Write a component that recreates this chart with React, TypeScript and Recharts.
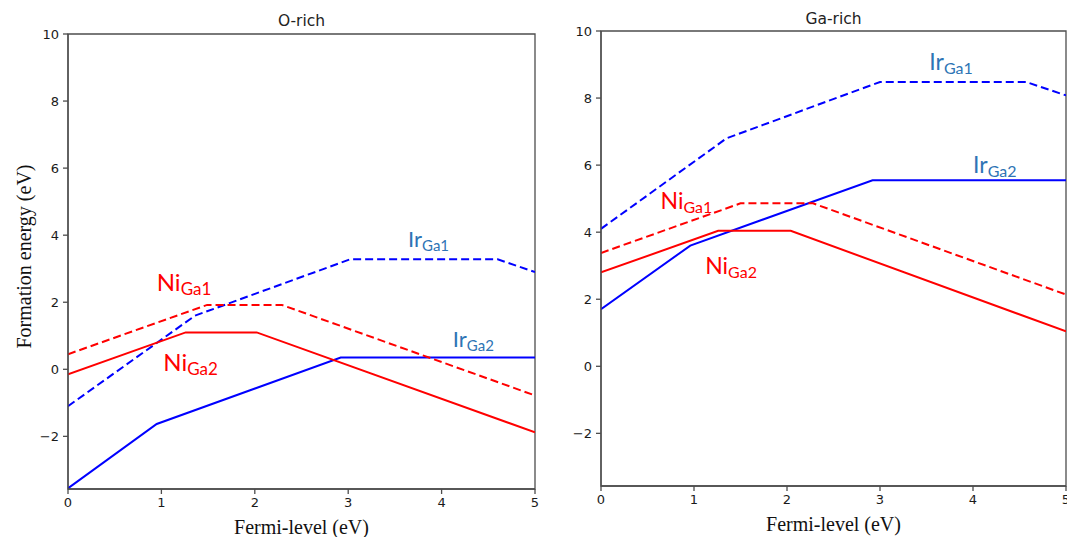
import React from 'react';
import { LineChart, Line, XAxis, YAxis, ReferenceArea, ReferenceDot, Label } from 'recharts';

// Fermi-level ticks and formation-energy ticks
const xTicks = [0, 1, 2, 3, 4, 5];
const yTicks = [-2, 0, 2, 4, 6, 8, 10];
const yDomain: [number, number] = [-3.57, 10];

// O-rich panel
const oRichIrGa1 = [
  { x: 0, e: -1.1 }, { x: 1.36, e: 1.6 }, { x: 3.02, e: 3.28 }, { x: 4.6, e: 3.28 }, { x: 5, e: 2.9 },
];
const oRichIrGa2 = [
  { x: 0, e: -3.55 }, { x: 0.95, e: -1.63 }, { x: 2.92, e: 0.35 }, { x: 5, e: 0.35 },
];
const oRichNiGa1 = [
  { x: 0, e: 0.45 }, { x: 1.49, e: 1.92 }, { x: 2.29, e: 1.92 }, { x: 5, e: -0.78 },
];
const oRichNiGa2 = [
  { x: 0, e: -0.15 }, { x: 1.26, e: 1.1 }, { x: 2.02, e: 1.1 }, { x: 5, e: -1.88 },
];

// Ga-rich panel
const gaRichIrGa1 = [
  { x: 0, e: 4.1 }, { x: 1.35, e: 6.8 }, { x: 3.0, e: 8.48 }, { x: 4.57, e: 8.48 }, { x: 5, e: 8.08 },
];
const gaRichIrGa2 = [
  { x: 0, e: 1.7 }, { x: 0.96, e: 3.6 }, { x: 2.92, e: 5.55 }, { x: 5, e: 5.55 },
];
const gaRichNiGa1 = [
  { x: 0, e: 3.38 }, { x: 1.5, e: 4.86 }, { x: 2.28, e: 4.86 }, { x: 5, e: 2.14 },
];
const gaRichNiGa2 = [
  { x: 0, e: 2.8 }, { x: 1.26, e: 4.04 }, { x: 2.04, e: 4.04 }, { x: 5, e: 1.04 },
];

// annotation labels (anchored in data units)
const oRichLabels = [
  { main: 'Ir', sub: 'Ga1', x: 3.64, y: 3.66, kind: 'ir', size: 22 },
  { main: 'Ni', sub: 'Ga1', x: 0.95, y: 2.35, kind: 'ni', size: 24 },
  { main: 'Ni', sub: 'Ga2', x: 1.02, y: -0.06, kind: 'ni', size: 24 },
  { main: 'Ir', sub: 'Ga2', x: 4.12, y: 0.66, kind: 'ir', size: 22 },
];
const gaRichLabels = [
  { main: 'Ir', sub: 'Ga1', x: 3.53, y: 8.84, kind: 'ir', size: 23 },
  { main: 'Ir', sub: 'Ga2', x: 4.0, y: 5.76, kind: 'ir', size: 23 },
  { main: 'Ni', sub: 'Ga1', x: 0.64, y: 4.69, kind: 'ni', size: 23 },
  { main: 'Ni', sub: 'Ga2', x: 1.12, y: 2.75, kind: 'ni', size: 23 },
];

const BLUE = '#0000ff';
const RED = '#ff0000';
const IR_TEXT = '#2e74b5';
const NI_TEXT = '#ff0000';
const SPINE = '#4d4d4d';
const tickStyle = { fontSize: 13, fill: '#1a1a1a', fontFamily: 'DejaVu Sans, sans-serif' };

type Pt = { x: number; e: number };
type Lbl = { main: string; sub: string; x: number; y: number; kind: string; size: number };

interface PanelProps {
  title: string;
  irGa1: Pt[];
  irGa2: Pt[];
  niGa1: Pt[];
  niGa2: Pt[];
  labels: Lbl[];
  width: number;
  height: number;
  margin: { top: number; right: number; bottom: number; left: number };
  yAxisWidth: number;
  showYLabel: boolean;
  titleDy: number;
}

function Panel(p: PanelProps) {
  return (
    <LineChart width={p.width} height={p.height} margin={p.margin}>
      <XAxis
        dataKey="x"
        type="number"
        domain={[0, 5]}
        ticks={xTicks}
        allowDataOverflow
        stroke={SPINE}
        strokeWidth={1.3}
        tickSize={5}
        tickMargin={4}
        tick={tickStyle}
        height={30}
      >
        <Label
          content={(lp: any) => {
            const vb = lp.viewBox || {};
            return (
              <text
                x={vb.x + vb.width / 2}
                y={vb.y + 45}
                textAnchor="middle"
                fontFamily="Liberation Serif, Times New Roman, serif"
                fontSize={20}
                fill="#111"
              >
                Fermi-level (eV)
              </text>
            );
          }}
        />
      </XAxis>
      <YAxis
        type="number"
        domain={yDomain}
        ticks={yTicks}
        allowDataOverflow
        stroke={SPINE}
        strokeWidth={1.3}
        tickSize={5}
        tickMargin={4}
        tick={tickStyle}
        width={p.yAxisWidth}
        tickFormatter={(v: number) => (v < 0 ? '\u2212' + Math.abs(v) : String(v))}
      >
        {p.showYLabel && (
          <Label
            content={(lp: any) => {
              const vb = lp.viewBox || {};
              const cx = vb.x + 16;
              const cy = vb.y + vb.height / 2 - 5;
              return (
                <text
                  x={cx}
                  y={cy}
                  transform={`rotate(-90 ${cx} ${cy})`}
                  textAnchor="middle"
                  dominantBaseline="central"
                  fontFamily="Liberation Serif, Times New Roman, serif"
                  fontSize={20}
                  fill="#111"
                >
                  Formation energy (eV)
                </text>
              );
            }}
          />
        )}
      </YAxis>
      <ReferenceArea
        x1={0}
        x2={5}
        y1={yDomain[0]}
        y2={yDomain[1]}
        fill="none"
        fillOpacity={0}
        stroke={SPINE}
        strokeWidth={1.3}
        label={(lp: any) => {
          const vb = lp.viewBox || {};
          return (
            <text
              x={vb.x + vb.width / 2}
              y={vb.y - p.titleDy}
              textAnchor="middle"
              fontFamily="DejaVu Sans, sans-serif"
              fontSize={15.5}
              fill="#222"
            >
              {p.title}
            </text>
          );
        }}
      />
      <Line data={p.irGa1} dataKey="e" stroke={BLUE} strokeWidth={2} strokeDasharray="8 4" dot={false} isAnimationActive={false} />
      <Line data={p.irGa2} dataKey="e" stroke={BLUE} strokeWidth={2} dot={false} isAnimationActive={false} />
      <Line data={p.niGa1} dataKey="e" stroke={RED} strokeWidth={2} strokeDasharray="8 4" dot={false} isAnimationActive={false} />
      <Line data={p.niGa2} dataKey="e" stroke={RED} strokeWidth={2} dot={false} isAnimationActive={false} />
      {p.labels.map((l, i) => (
        <ReferenceDot
          key={i}
          x={l.x}
          y={l.y}
          r={0}
          fill="none"
          stroke="none"
          label={(lp: any) => {
            const vb = lp.viewBox || {};
            const color = l.kind === 'ir' ? IR_TEXT : NI_TEXT;
            return (
              <text
                x={vb.x}
                y={vb.y}
                fontFamily="Lato, 'Open Sans', sans-serif"
                fontSize={l.size}
                fill={color}
              >
                <tspan>{l.main}</tspan>
                <tspan fontSize={Math.round(l.size * 0.7)} dy={4}>
                  {l.sub}
                </tspan>
              </text>
            );
          }}
        />
      ))}
    </LineChart>
  );
}

export default function App() {
  return (
    <div
      style={{
        position: 'absolute',
        left: 0,
        top: 0,
        width: 1067,
        height: 537,
        overflow: 'hidden',
        background: '#fff',
      }}
    >
      <div style={{ position: 'absolute', left: 0, top: 0 }}>
        <Panel
          title="O-rich"
          irGa1={oRichIrGa1}
          irGa2={oRichIrGa2}
          niGa1={oRichNiGa1}
          niGa2={oRichNiGa2}
          labels={oRichLabels}
          width={560}
          height={537}
          margin={{ top: 34, right: 25, bottom: 18, left: 8 }}
          yAxisWidth={60}
          showYLabel
          titleDy={8}
        />
      </div>
      <div style={{ position: 'absolute', left: 540, top: 0 }}>
        <Panel
          title="Ga-rich"
          irGa1={gaRichIrGa1}
          irGa2={gaRichIrGa2}
          niGa1={gaRichNiGa1}
          niGa2={gaRichNiGa2}
          labels={gaRichLabels}
          width={540}
          height={537}
          margin={{ top: 31, right: 14, bottom: 21, left: 8 }}
          yAxisWidth={53}
          showYLabel={false}
          titleDy={7}
        />
      </div>
    </div>
  );
}
